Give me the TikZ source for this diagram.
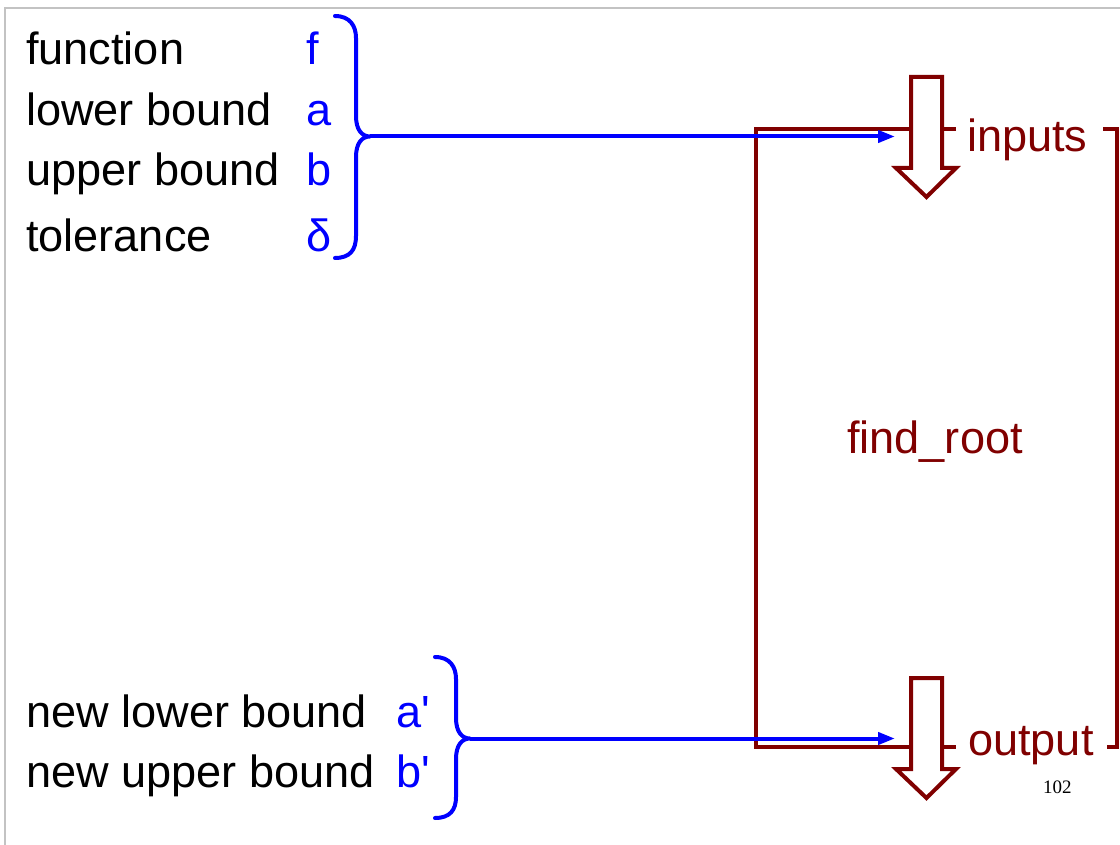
\documentclass[tikz,border=0pt]{standalone}
\usepackage{fontspec}
\setmainfont{Liberation Sans}[Ligatures=TeXOff]
\newfontfamily\pagenumfont{Liberation Serif}
\usetikzlibrary{arrows.meta}
\definecolor{maroon}{RGB}{128,0,0}
\definecolor{framegray}{RGB}{195,195,195}
\begin{document}
\begin{tikzpicture}[x=1pt,y=-1pt,
  lbl/.style={anchor=base west, inner sep=0pt, font=\fontsize{45.1}{50}\selectfont},
  varlbl/.style={lbl, text=blue},
  fnlbl/.style={lbl, text=maroon},
  bracepath/.style={draw=blue, line width=4pt, line cap=round, line join=round},
  feed/.style={draw=blue, line width=4pt, -{Triangle[length=17pt,width=12pt]}},
  boxline/.style={draw=maroon, line width=4pt},
  downarrow/.style={draw=maroon, fill=white, line width=4pt}]
\useasboundingbox (0,0) rectangle (1120,845);
\draw[framegray, line width=1.5pt] (5,845) -- (5,8) -- (1120,8);

% input labels
\node[lbl] (lfun) at (26,65) {function};
\node[lbl] (llow) at (26,126) {lower bound};
\node[lbl] (lupp) at (26,186) {upper bound};
\node[lbl] (ltol) at (26,252) {tolerance};
\node[varlbl] (vf) at (306,65) {f};
\node[varlbl] (va) at (306,126) {a};
\node[varlbl] (vb) at (306,186) {b};
\node[varlbl] (vd) at (306,252) {δ};

% output labels
\node[lbl] (lnlow) at (26,727) {new lower bound};
\node[lbl] (lnupp) at (26,787) {new upper bound};
\node[varlbl] (vap) at (396,727) {a'};
\node[varlbl] (vbp) at (396,787) {b'};

% function box
\draw[boxline] (956,129) -- (756,129) -- (756,747) -- (956,747);
\draw[boxline] (1103,129) -- (1117,129) -- (1117,747) -- (1107,747);
\node[fnlbl] (fname) at (847,453) {find\_root};
\node[fnlbl] (tin) at (967,152) {inputs};
\node[fnlbl] (tout) at (968,755) {output};
\node[anchor=base west, inner sep=0pt, font=\pagenumfont\fontsize{19}{22}\selectfont] (pnum) at (1043,793) {102};

% down arrows
\draw[downarrow] (911,77) -- (942,77) -- (942,168) -- (956,168) -- (926.5,197) -- (896,168) -- (911,168) -- cycle;
\draw[downarrow] (911,678) -- (942,678) -- (942,769) -- (956,769) -- (926.5,798) -- (896,769) -- (911,769) -- cycle;

% braces
\coordinate (inbrace) at (370,136.5);
\coordinate (inend) at (895,136.5);
\coordinate (outbrace) at (470,738.5);
\coordinate (outend) at (895,738.5);
\draw[bracepath] (335,16) .. controls (350,16) and (356,26) .. (356,38) -- (356,116)
  .. controls (356,130) and (362,136.5) .. (inbrace)
  .. controls (362,136.5) and (356,143) .. (356,157) -- (356,236)
  .. controls (356,250) and (350,258) .. (335,258);
\draw[bracepath] (435,657) .. controls (450,657) and (456,667) .. (456,679) -- (456,718)
  .. controls (456,732) and (462,738.5) .. (outbrace)
  .. controls (462,738.5) and (456,745) .. (456,759) -- (456,797)
  .. controls (456,810) and (450,818) .. (435,818);

\draw[feed] (inbrace) -- (inend);
\draw[feed] (outbrace) -- (outend);
\end{tikzpicture}
\end{document}
